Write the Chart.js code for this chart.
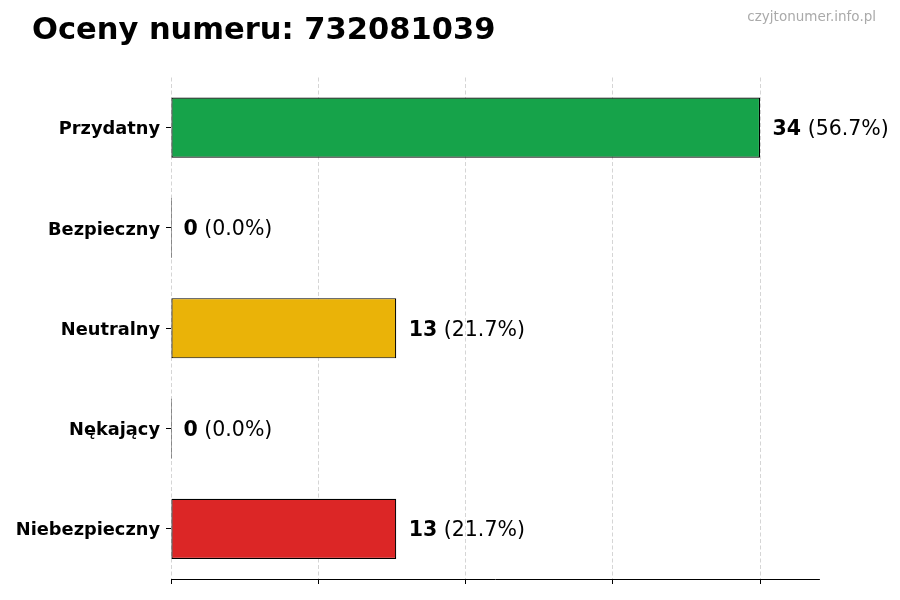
<!DOCTYPE html>
<html>
<head>
<meta charset="utf-8">
<script src="https://cdn.jsdelivr.net/npm/chart.js@4.4.1/dist/chart.umd.min.js"></script>
<style>
  html, body { margin: 0; padding: 0; background: #fff; }
  #wrap { width: 900px; height: 600px; position: relative; }
</style>
</head>
<body>
<div id="wrap"><canvas id="c" width="900" height="600"></canvas></div>
<script>
const categories = ['Przydatny', 'Bezpieczny', 'Neutralny', 'Nękający', 'Niebezpieczny'];
const counts = [34, 0, 13, 0, 13];
const barColors = ['#16a34a', '#333333', '#eab308', '#333333', '#dc2626'];
const xTickValues = [0, 8.5, 17, 25.5, 34];
const xMax = 37.4;
const titleText = 'Oceny numeru: 732081039';
const watermarkText = 'czyjtonumer.info.pl';

const FONT = '"DejaVu Sans", "Liberation Sans", sans-serif';
const total = counts.reduce((a, b) => a + b, 0);

const textPlugin = {
  id: 'texts',
  afterDatasetsDraw(chart) {
    const ctx = chart.ctx;
    const meta = chart.getDatasetMeta(0);
    ctx.save();
    ctx.textBaseline = 'middle';
    ctx.textAlign = 'left';
    meta.data.forEach((bar, i) => {
      const v = counts[i];
      const pct = total ? (v / total * 100).toFixed(1) : '0.0';
      const x0 = chart.scales.x.getPixelForValue(v) + 12.5;
      const y = bar.y + 2;
      ctx.fillStyle = '#000';
      ctx.font = 'bold 20.5px ' + FONT;
      const s1 = String(v);
      ctx.fillText(s1, x0, y);
      const w1 = ctx.measureText(s1).width;
      ctx.font = '20.5px ' + FONT;
      ctx.fillText(' (' + pct + '%)', x0 + w1, y);
    });
    ctx.restore();
  },
  afterDraw(chart) {
    const ctx = chart.ctx;
    ctx.save();
    ctx.textBaseline = 'middle';
    ctx.textAlign = 'left';
    ctx.fillStyle = '#000';
    ctx.font = 'bold 30.5px ' + FONT;
    ctx.fillText(titleText, 32, 31);
    ctx.textAlign = 'right';
    ctx.fillStyle = '#aaaaaa';
    ctx.font = '13.5px ' + FONT;
    ctx.fillText(watermarkText, 876, 17.5);
    ctx.restore();
  }
};

new Chart(document.getElementById('c'), {
  type: 'bar',
  data: {
    labels: categories,
    datasets: [{
      data: counts,
      backgroundColor: barColors,
      borderColor: '#000',
      borderWidth: 1.2,
      borderSkipped: false,
      barPercentage: 0.6,
      categoryPercentage: 1.0,
      minBarLength: 1
    }]
  },
  options: {
    indexAxis: 'y',
    responsive: false,
    animation: false,
    devicePixelRatio: 1,
    layout: { padding: { top: 77.5, right: 81, left: 0, bottom: 0 } },
    plugins: {
      legend: { display: false },
      tooltip: { enabled: false },
      title: { display: false }
    },
    scales: {
      x: {
        type: 'linear',
        min: 0,
        max: xMax,
        afterBuildTicks(scale) { scale.ticks = xTickValues.map(v => ({ value: v })); },
        afterFit(scale) { scale.height = 21; },
        ticks: { callback: () => '', padding: 0 },
        grid: {
          display: true,
          drawOnChartArea: true,
          drawTicks: true,
          tickLength: 5,
          color: 'rgba(150,150,150,0.5)',
          lineWidth: 0.8,
          tickColor: '#000',
          tickWidth: 1,
          tickBorderDash: [],
          borderDash: [4, 2.5]
        },
        border: { display: true, color: '#000', width: 1, dash: [4, 2.5] }
      },
      y: {
        type: 'category',
        afterFit(scale) { scale.width = 171; },
        ticks: {
          color: '#000',
          padding: 6,
          labelOffset: 2,
          font: { family: FONT, size: 17.8, weight: 'bold' }
        },
        grid: {
          display: true,
          offset: false,
          drawOnChartArea: false,
          drawTicks: true,
          tickLength: 5,
          tickColor: '#000',
          tickWidth: 1
        },
        border: { display: false }
      }
    }
  },
  plugins: [textPlugin]
});
</script>
</body>
</html>
